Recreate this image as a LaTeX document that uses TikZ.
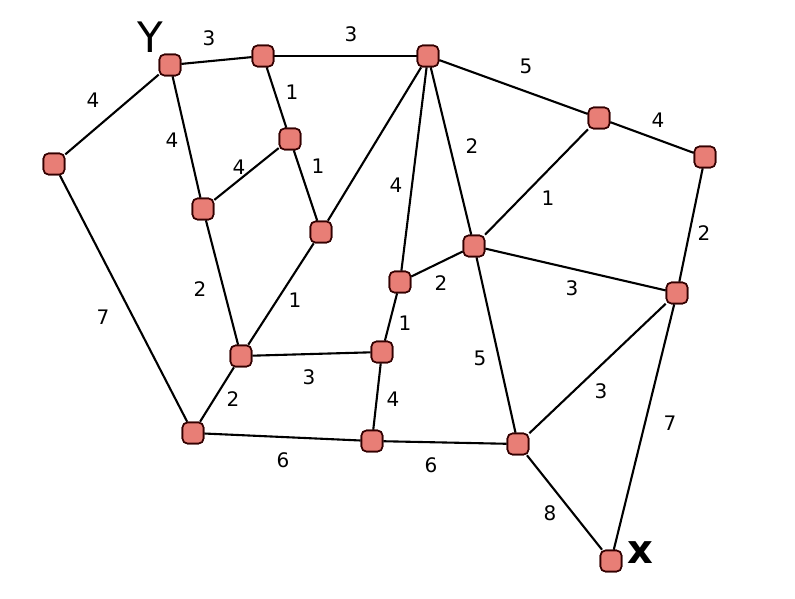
\documentclass[tikz,border=0pt]{standalone}
\usepackage{fontspec}
\setmainfont{DejaVu Sans}
\begin{document}
\begin{tikzpicture}[x=1pt,y=-1pt,
  vtx/.style={draw=black!80!red,line width=1.6pt,fill={rgb,255:red,232;green,126;blue,118},rounded corners=5pt,minimum size=21pt,inner sep=0pt},
  edge/.style={line width=2.1pt,black},
  wt/.style={font=\fontsize{20}{20}\selectfont,inner sep=1pt},
  hand/.style={font=\fontsize{42}{42}\selectfont,inner sep=0pt}]
\useasboundingbox (0,0) rectangle (795,598);
\fill[white] (0,0) rectangle (795,598);
\node[vtx] (A) at (54,164) {};
\node[vtx] (Y) at (170,65) {};
\node[vtx] (B) at (263,56) {};
\node[vtx] (C) at (428,56) {};
\node[vtx] (D) at (290,139) {};
\node[vtx] (E) at (203,209) {};
\node[vtx] (F) at (321,232) {};
\node[vtx] (G) at (599,118) {};
\node[vtx] (H) at (705,157) {};
\node[vtx] (I) at (474,246) {};
\node[vtx] (J) at (400,282) {};
\node[vtx] (K) at (677,293) {};
\node[vtx] (L) at (241,356) {};
\node[vtx] (M) at (382,352) {};
\node[vtx] (N) at (193,433) {};
\node[vtx] (O) at (372,441) {};
\node[vtx] (P) at (518,444) {};
\node[vtx] (X) at (611,561) {};
\draw[edge] (A) -- (Y);
\draw[edge] (Y) -- (B);
\draw[edge] (B) -- (C);
\draw[edge] (Y) -- (E);
\draw[edge] (B) -- (D);
\draw[edge] (D) -- (E);
\draw[edge] (D) -- (F);
\draw[edge] (C) -- (F);
\draw[edge] (F) -- (L);
\draw[edge] (E) -- (L);
\draw[edge] (C) -- (J);
\draw[edge] (C) -- (I);
\draw[edge] (C) -- (G);
\draw[edge] (G) -- (H);
\draw[edge] (G) -- (I);
\draw[edge] (H) -- (K);
\draw[edge] (J) -- (I);
\draw[edge] (I) -- (K);
\draw[edge] (J) -- (M);
\draw[edge] (L) -- (M);
\draw[edge] (L) -- (N);
\draw[edge] (A) -- (N);
\draw[edge] (M) -- (O);
\draw[edge] (N) -- (O);
\draw[edge] (O) -- (P);
\draw[edge] (I) -- (P);
\draw[edge] (K) -- (P);
\draw[edge] (K) -- (X);
\draw[edge] (P) -- (X);
\foreach \n in {A,Y,B,C,D,E,F,G,H,I,J,K,L,M,N,O,P,X}
  \node[vtx] at (\n) {};
\node[wt] (w1) at (93,100) {4};
\node[wt] (w2) at (209,38) {3};
\node[wt] (w3) at (351,34) {3};
\node[wt] (w4) at (292,92) {1};
\node[wt] (w5) at (172,140) {4};
\node[wt] (w6) at (239,167) {4};
\node[wt] (w7) at (318,166) {1};
\node[wt] (w8) at (396,185) {4};
\node[wt] (w9) at (200,289) {2};
\node[wt] (w10) at (295,300) {1};
\node[wt] (w11) at (441,283) {2};
\node[wt] (w12) at (405,323) {1};
\node[wt] (w13) at (526,66) {5};
\node[wt] (w14) at (472,146) {2};
\node[wt] (w15) at (658,120) {4};
\node[wt] (w16) at (548,198) {1};
\node[wt] (w17) at (704,233) {2};
\node[wt] (w18) at (572,288) {3};
\node[wt] (w19) at (309,377) {3};
\node[wt] (w20) at (233,399) {2};
\node[wt] (w21) at (393,399) {4};
\node[wt] (w22) at (283,460) {6};
\node[wt] (w23) at (431,465) {6};
\node[wt] (w24) at (480,358) {5};
\node[wt] (w25) at (601,391) {3};
\node[wt] (w26) at (670,423) {7};
\node[wt] (w27) at (550,513) {8};
\node[wt] (w28) at (103,317) {7};
\node[hand] (ly) at (150,37) {Y};
\node[hand,font=\fontsize{40}{40}\bfseries] (lx) at (640,553) {x};
\end{tikzpicture}
\end{document}
